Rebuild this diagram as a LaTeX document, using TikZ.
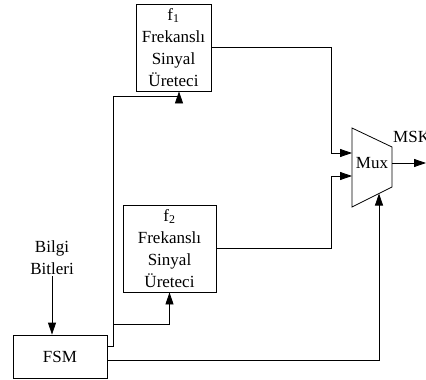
\documentclass[tikz,border=0pt]{standalone}
\usepackage{fontspec}
\setmainfont{Liberation Serif}
\usepackage{tikz}
\usetikzlibrary{arrows.meta,positioning}

\begin{document}
\begin{tikzpicture}[x=1pt, y=-1pt,
  box/.style={rectangle, draw, line width=0.8pt, align=center, inner sep=1pt, font=\fontsize{17}{22}\selectfont},
  lbl/.style={align=center, inner sep=1pt, font=\fontsize{17}{22}\selectfont},
  arr/.style={-{Triangle[length=12pt, width=8pt]}, line width=0.8pt}
]
\useasboundingbox (0,0) rectangle (426,380);
\node[box, minimum width=75pt, minimum height=87pt] (f1) at (173.5,47.5) {f\textsubscript{1}\\Frekanslı\\Sinyal\\Üreteci};
\node[box, minimum width=93pt, minimum height=87pt] (f2) at (169.5,248.5) {f\textsubscript{2}\\Frekanslı\\Sinyal\\Üreteci};
\node[box, minimum width=94pt, minimum height=43pt] (fsm) at (60,356.5) {FSM};
\node[lbl] (bits) at (52,258) {Bilgi\\Bitleri};
% multiplexer
\draw[line width=0.8pt] (352,128) -- (392,147) -- (392,187) -- (352,207) -- cycle;
\node[lbl] (mux) at (372,163) {Mux};
\coordinate (in1) at (352,153);
\coordinate (in2) at (352,176);
\coordinate (sel) at (379,193.5);
\coordinate (out) at (392,163);
\coordinate (msk) at (426,163);
\node[lbl, anchor=west] (msklbl) at (392,137) {MSK};
\coordinate (bus) at (113,324);
\draw[arr] (bits) -- (bits |- fsm.north);
\draw[arr] ([yshift=10pt]fsm.east) -| (113,96) -| ([xshift=5.5pt]f1.south);
\draw[arr] (bus) -| (f2.south);
\draw[arr] ([yshift=-3.5pt]fsm.east) -| (sel);
\draw[arr] (f1.east) -| ([xshift=-21pt]in1) -- (in1);
\draw[arr] (f2.east) -| ([xshift=-21pt]in2) -- (in2);
\draw[arr] (out) -- (msk);
\end{tikzpicture}
\end{document}
